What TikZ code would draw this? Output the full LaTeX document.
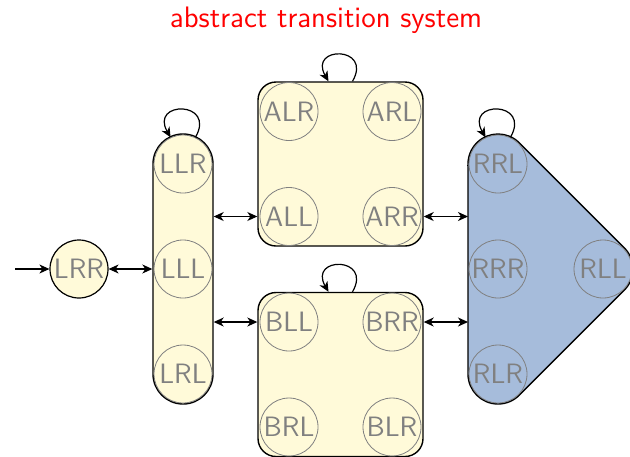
\documentclass[tikz,border=0pt]{standalone}
\usetikzlibrary{arrows.meta}
\definecolor{grpyellow}{RGB}{255,250,217}
\definecolor{grpblue}{RGB}{166,188,219}
\definecolor{stategray}{RGB}{128,128,128}
\begin{document}
\begin{tikzpicture}[x=0.5pt,y=-0.5pt,
  st/.style={circle, draw=stategray, line width=0.4pt, text=stategray, minimum size=29pt, inner sep=0pt, font=\sffamily\fontsize{14}{16}\selectfont},
  grp/.style={draw=black, fill=grpyellow, line width=0.7pt, inner sep=0pt},
  tip/.tip={Stealth[length=5pt,width=4.5pt,inset=1.5pt]},
  arr/.style={-tip, line width=0.6pt},
  darr/.style={tip-tip, line width=0.6pt},
  selfloop/.style={arr, out=60, in=120, looseness=4.4}
]
\useasboundingbox (0,0) rectangle (630,456);

\node[font=\sffamily\fontsize{14.8}{17}\selectfont, text=red, anchor=base] (title) at (326,27) {abstract transition system};

% groups
\node[grp, minimum width=30pt, minimum height=135pt, rounded corners=15pt] (gL) at (183,269) {};
\node[grp, minimum width=82.5pt, minimum height=82pt, rounded corners=9pt] (gA) at (340.5,164) {};
\node[grp, minimum width=82.5pt, minimum height=82pt, rounded corners=9pt] (gB) at (340.5,374.5) {};
\draw[grp, fill=grpblue] (468,164) -- (468,374) arc[start angle=180,end angle=45,radius=30]
  -- (624.21,290.21) arc[start angle=45,end angle=-45,radius=30]
  -- (519.21,142.79) arc[start angle=-45,end angle=-180,radius=30] -- cycle;
\coordinate (hullW) at (468,269);

% states
\node[st, draw=black, line width=0.6pt, fill=grpyellow] (LRR) at (79,269) {LRR};
\node[st] (LLR) at (183,164) {LLR};
\node[st] (LLL) at (183,269) {LLL};
\node[st] (LRL) at (183,374) {LRL};
\node[st] (ALR) at (289,111.5) {ALR};
\node[st] (ARL) at (392,111.5) {ARL};
\node[st] (ALL) at (289,216.5) {ALL};
\node[st] (ARR) at (392,216.5) {ARR};
\node[st] (BLL) at (289,322) {BLL};
\node[st] (BRR) at (392,322) {BRR};
\node[st] (BRL) at (289,427) {BRL};
\node[st] (BLR) at (392,427) {BLR};
\node[st] (RRL) at (498,164) {RRL};
\node[st] (RRR) at (498,269) {RRR};
\node[st] (RLR) at (498,374) {RLR};
\node[st] (RLL) at (603,269) {RLL};

% connectors
\coordinate (start) at (15,269);
\draw[arr] (start) -- (LRR);
\draw[darr] (LRR) -- (gL);
\draw[darr] (gL.east |- ALL) -- (gA.west |- ALL);
\draw[darr] (gL.east |- BLL) -- (gB.west |- BLL);
\draw[darr] (gA.east |- ARR) -- (hullW |- ARR);
\draw[darr] (gB.east |- BRR) -- (hullW |- BRR);

% self loops
\draw[selfloop] (LLR.65) to (LLR.115);
\draw[selfloop] ([xshift=6pt]gA.north) to ([xshift=-6pt]gA.north);
\draw[selfloop] ([xshift=6pt]gB.north) to ([xshift=-6pt]gB.north);
\draw[selfloop] (RRL.65) to (RRL.115);
\end{tikzpicture}
\end{document}
